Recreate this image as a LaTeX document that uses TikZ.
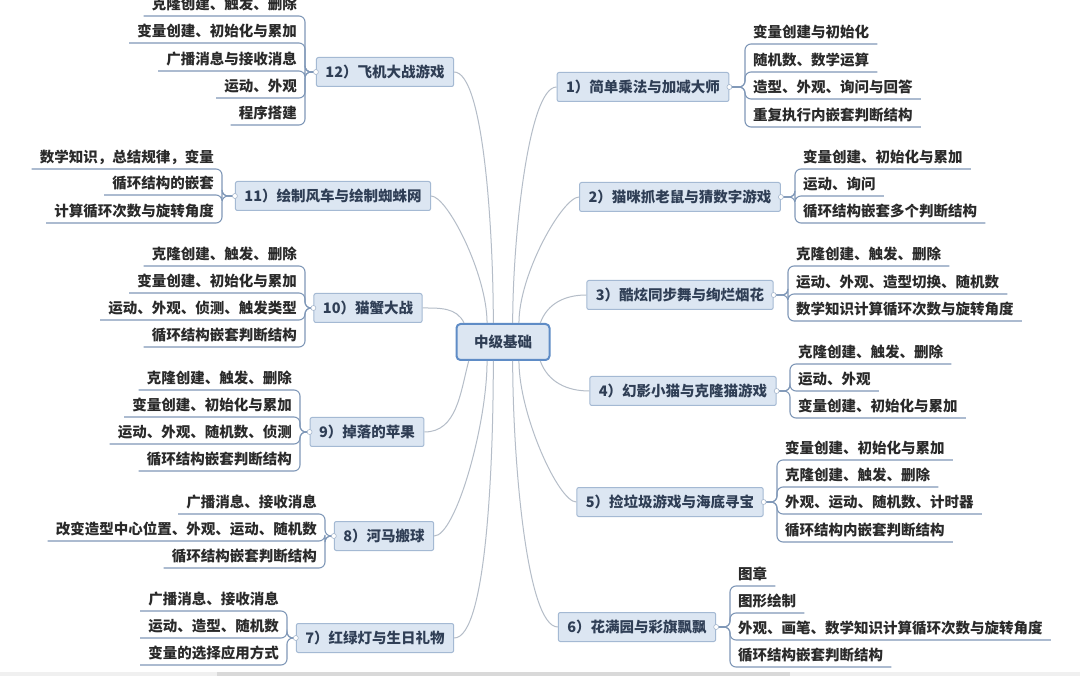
\documentclass[tikz,border=0pt]{standalone}
\usepackage{fontspec}
\setmainfont{Noto Sans CJK SC}
\newcommand\fsz{\fontsize{14.5pt}{17pt}\selectfont}
\definecolor{boxfill}{HTML}{DCE6F2}
\definecolor{boxline}{HTML}{A4B9D3}
\definecolor{rootline}{HTML}{5F8CC6}
\definecolor{labeltext}{HTML}{2F3E55}
\definecolor{leaftext}{HTML}{2A2A2A}
\definecolor{limbcol}{HTML}{B5BDC8}
\definecolor{twigcol}{HTML}{8098B8}
\tikzset{
  root/.style={draw=rootline,line width=2pt,fill=boxfill,rounded corners=4pt,
    minimum width=93pt,minimum height=36pt,text=labeltext,font=\fsz\bfseries},
  topic/.style={draw=boxline,line width=1pt,fill=boxfill,rounded corners=2pt,
    minimum height=29pt,inner xsep=9pt,text=labeltext,font=\fsz\bfseries},
  leaf/.style={inner xsep=8pt,inner ysep=4.5pt,text depth=2pt,text=leaftext,font=\fsz\bfseries},
  limb/.style={draw=limbcol,line width=1pt},
  twig/.style={draw=twigcol,line width=1.1pt,rounded corners=6pt},
  knob/.style={draw=twigcol!70,fill=white,line width=0.6pt},
  up/.style={out=90,out looseness=0.9,in looseness=0.3},
  down/.style={out=-90,out looseness=0.9,in looseness=0.3}
}
\begin{document}
\begin{tikzpicture}[x=1pt,y=1pt]
  \fill[white] (0,0) rectangle (1080,-676);
  \useasboundingbox (0,0) rectangle (1080,-676);
  \fill[black!6] (0,-672) rectangle (1080,-676);
  \fill[black!15] (217,-672) rectangle (790,-676);

  \node[root] (root) at (503,-342) {中级基础};

  % right side
  \node[topic] (b1) at (643,-87) {1）简单乘法与加减大师};
  \node[topic] (b2) at (680,-197) {2）猫咪抓老鼠与猜数字游戏};
  \node[topic] (b3) at (680,-295) {3）酷炫同步舞与绚烂烟花};
  \node[topic] (b4) at (683,-391) {4）幻影小猫与克隆猫游戏};
  \node[topic] (b5) at (670,-502) {5）捡垃圾游戏与海底寻宝};
  \node[topic] (b6) at (637,-627) {6）花满园与彩旗飘飘};

  % left side
  \node[topic] (b12) at (385,-72) {12）飞机大战游戏};
  \node[topic] (b11) at (333,-196) {11）绘制风车与绘制蜘蛛网};
  \node[topic] (b10) at (368,-308) {10）猫蟹大战};
  \node[topic] (b9) at (367,-432) {9）掉落的苹果};
  \node[topic] (b8) at (384,-536) {8）河马搬球};
  \node[topic] (b7) at (375,-638) {7）红绿灯与生日礼物};

  \draw[limb] (root.63) to[up,in=180] (b1.west);
  \draw[limb] (root.50) to[up,in=180] (b2.west);
  \draw[limb] (root.27) to[out=70,in=180] (b3.west);
  \draw[limb] (root.-27) to[out=-70,in=180] (b4.west);
  \draw[limb] (root.-50) to[down,in=180] (b5.west);
  \draw[limb] (root.-63) to[down,in=180] (b6.west);
  \draw[limb] (root.117) to[up,in=0] (b12.east);
  \draw[limb] (root.130) to[up,in=0] (b11.east);
  \draw[limb] (root.154) to[out=115,in=0] (b10.east);
  \draw[limb] (root.209) to[out=-105,in=0] (b9.east);
  \draw[limb] (root.230) to[down,in=0] (b8.east);
  \draw[limb] (root.243) to[down,in=0] (b7.east);

  \node[leaf,anchor=south west] (b1-1) at (745,-44) {变量创建与初始化};
  \node[leaf,anchor=south west] (b1-2) at (745,-72) {随机数、数学运算};
  \node[leaf,anchor=south west] (b1-3) at (745,-99) {造型、外观、询问与回答};
  \node[leaf,anchor=south west] (b1-4) at (745,-127) {重复执行内嵌套判断结构};

  \node[leaf,anchor=south west] (b2-1) at (795,-169) {变量创建、初始化与累加};
  \node[leaf,anchor=south west] (b2-2) at (795,-196) {运动、询问};
  \node[leaf,anchor=south west] (b2-3) at (795,-223) {循环结构嵌套多个判断结构};

  \node[leaf,anchor=south west] (b3-1) at (788,-266) {克隆创建、触发、删除};
  \node[leaf,anchor=south west] (b3-2) at (788,-294) {运动、外观、造型切换、随机数};
  \node[leaf,anchor=south west] (b3-3) at (788,-321) {数学知识计算循环次数与旋转角度};

  \node[leaf,anchor=south west] (b4-1) at (790,-364) {克隆创建、触发、删除};
  \node[leaf,anchor=south west] (b4-2) at (790,-391) {运动、外观};
  \node[leaf,anchor=south west] (b4-3) at (790,-418) {变量创建、初始化与累加};

  \node[leaf,anchor=south west] (b5-1) at (777,-460) {变量创建、初始化与累加};
  \node[leaf,anchor=south west] (b5-2) at (777,-487) {克隆创建、触发、删除};
  \node[leaf,anchor=south west] (b5-3) at (777,-514) {外观、运动、随机数、计时器};
  \node[leaf,anchor=south west] (b5-4) at (777,-542) {循环结构内嵌套判断结构};

  \node[leaf,anchor=south west] (b6-1) at (730,-586) {图章};
  \node[leaf,anchor=south west] (b6-2) at (730,-613) {图形绘制};
  \node[leaf,anchor=south west] (b6-3) at (730,-640) {外观、画笔、数学知识计算循环次数与旋转角度};
  \node[leaf,anchor=south west] (b6-4) at (730,-667) {循环结构嵌套判断结构};

  \node[leaf,anchor=south east] (b12-1) at (305,-16) {克隆创建、触发、删除};
  \node[leaf,anchor=south east] (b12-2) at (305,-43) {变量创建、初始化与累加};
  \node[leaf,anchor=south east] (b12-3) at (305,-71) {广播消息与接收消息};
  \node[leaf,anchor=south east] (b12-4) at (305,-98) {运动、外观};
  \node[leaf,anchor=south east] (b12-5) at (305,-125) {程序搭建};

  \node[leaf,anchor=south east] (b11-1) at (222,-169) {数学知识，总结规律，变量};
  \node[leaf,anchor=south east] (b11-2) at (222,-195) {循环结构的嵌套};
  \node[leaf,anchor=south east] (b11-3) at (222,-223) {计算循环次数与旋转角度};

  \node[leaf,anchor=south east] (b10-1) at (305,-266) {克隆创建、触发、删除};
  \node[leaf,anchor=south east] (b10-2) at (305,-293) {变量创建、初始化与累加};
  \node[leaf,anchor=south east] (b10-3) at (305,-320) {运动、外观、侦测、触发类型};
  \node[leaf,anchor=south east] (b10-4) at (305,-347) {循环结构嵌套判断结构};

  \node[leaf,anchor=south east] (b9-1) at (300,-390) {克隆创建、触发、删除};
  \node[leaf,anchor=south east] (b9-2) at (300,-417) {变量创建、初始化与累加};
  \node[leaf,anchor=south east] (b9-3) at (300,-444) {运动、外观、随机数、侦测};
  \node[leaf,anchor=south east] (b9-4) at (300,-471) {循环结构嵌套判断结构};

  \node[leaf,anchor=south east] (b8-1) at (325,-514) {广播消息、接收消息};
  \node[leaf,anchor=south east] (b8-2) at (325,-541) {改变造型中心位置、外观、运动、随机数};
  \node[leaf,anchor=south east] (b8-3) at (325,-568) {循环结构嵌套判断结构};

  \node[leaf,anchor=south east] (b7-1) at (287,-611) {广播消息、接收消息};
  \node[leaf,anchor=south east] (b7-2) at (287,-638) {运动、造型、随机数};
  \node[leaf,anchor=south east] (b7-3) at (287,-665) {变量的选择应用方式};

  % brackets and underlines
  \foreach \b/\n in {1/4,2/3,3/3,4/3,5/4,6/4}
    \foreach \i in {1,...,\n}
      \draw[twig] (b\b.east) -| (b\b-\i.south west) -- (b\b-\i.south east);
  \foreach \b/\n in {12/5,11/3,10/4,9/4,8/3,7/3}
    \foreach \i in {1,...,\n}
      \draw[twig] (b\b.west) -| (b\b-\i.south east) -- (b\b-\i.south west);

  \foreach \b in {1,...,6}
    \draw[knob] (b\b.east) circle (2.5pt);
  \foreach \b in {7,...,12}
    \draw[knob] (b\b.west) circle (2.5pt);
\end{tikzpicture}
\end{document}
